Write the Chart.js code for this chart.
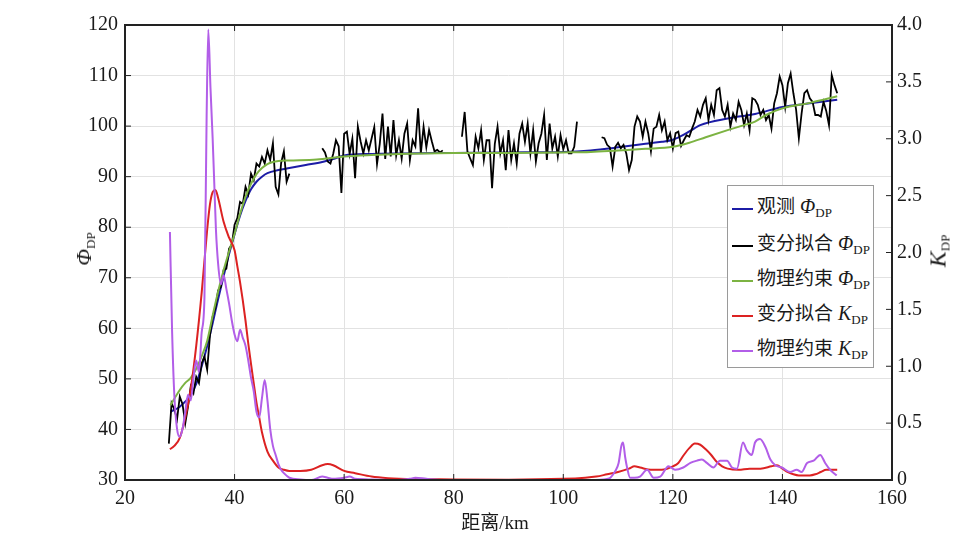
<!DOCTYPE html>
<html lang="zh-CN">
<head>
<meta charset="UTF-8">
<title>差分相位 Φ_DP 与比差分相位 K_DP</title>
<script src="https://cdn.jsdelivr.net/npm/chart.js"></script>
<style>
  body { margin: 0; background: #fff; }
  #wrap { position: relative; width: 976px; height: 534px; }
  .ttl { position: absolute; white-space: nowrap; color: #1a1a1a; font-family: "Liberation Serif", "Noto Sans CJK SC", serif; }
  .rot { transform: translate(-50%, -50%) rotate(-90deg); }
  .ttl i, #legend i { font-family: "Liberation Serif", serif; }
  .ttl sub, #legend sub { font-family: "Liberation Serif", serif; font-size: 13px; font-style: normal; vertical-align: -4px; line-height: 0; }
  #legend { position: absolute; left: 727px; top: 185px; width: 147px; height: 183px; box-sizing: border-box;
            border: 1px solid #9a9a9a; background: #fff; }
  .row { position: absolute; left: 0; height: 30px; line-height: 30px; white-space: nowrap;
         font-family: "Liberation Serif", "Noto Sans CJK SC", serif; font-size: 19px; color: #1a1a1a; }
  .sw { display: inline-block; vertical-align: middle; width: 21px; height: 2px; margin: 0 4px 0 4px; }
  .row i { font-size: 20px; margin-left: 5px; }
</style>
</head>
<body>
<div id="wrap">
  <canvas id="grafico" width="976" height="534"></canvas>

  <!-- títulos dos eixos (com subscrito) -->
  <div class="ttl rot" style="left:84px; top:249px; font-size:22px;"><i>Φ</i><sub>DP</sub></div>
  <div class="ttl rot" style="left:938px; top:251px; font-size:24px;"><i>K</i><sub>DP</sub></div>
  <div class="ttl" style="left:495px; top:520px; transform: translate(-50%, -50%); font-size:19px;">距离/km</div>

  <!-- legenda -->
  <div id="legend">
    <div class="row" style="top:5px;"><span class="sw" style="background:#1c1ca6"></span>观测<i>Φ</i><sub>DP</sub></div>
    <div class="row" style="top:42px;"><span class="sw" style="background:#000"></span>变分拟合<i>Φ</i><sub>DP</sub></div>
    <div class="row" style="top:77px;"><span class="sw" style="background:#7cb342"></span>物理约束<i>Φ</i><sub>DP</sub></div>
    <div class="row" style="top:112px;"><span class="sw" style="background:#dc2222"></span>变分拟合<i>K</i><sub>DP</sub></div>
    <div class="row" style="top:147px;"><span class="sw" style="background:#b25ee8"></span>物理约束<i>K</i><sub>DP</sub></div>
  </div>
</div>

<script>
// eixo X (distância, km) e eixos Y
const xTicks = [20, 40, 60, 80, 100, 120, 140, 160];
const phiTicks = [30, 40, 50, 60, 70, 80, 90, 100, 110, 120];
const kTicks = [0, 0.5, 1.0, 1.5, 2.0, 2.5, 3.0, 3.5, 4.0];

// 观测 Φ_DP (azul, suave)
const distBlue = [28.3, 30, 32, 33, 34, 35, 36, 37, 38, 39, 40, 41, 42, 43, 44, 45, 46, 48, 50, 53, 56, 58, 60, 65, 70,
                  80, 90, 100, 105, 110, 115, 118, 120, 122, 124, 125, 130, 135, 140, 145, 150];
const phiBlue = [43.5, 44.5, 46.8, 49.0, 52.5, 56.5, 61.0, 65.8, 70.3, 74.7, 78.6, 82.3, 85.2, 87.5, 89.0, 90.0, 90.7, 91.3, 91.7, 92.3, 92.9, 93.5, 94.2, 94.5, 94.6,
                 94.7, 94.8, 94.9, 95.2, 95.8, 96.5, 96.9, 97.3, 98.3, 99.6, 100.2, 101.5, 102.4, 103.8, 104.5, 105.2];

// 变分拟合 Φ_DP (preto, ruidoso) - 4 trechos, passo de 0,5 km
const blackStep = 0.5;
const blackStartA = 28.0;
const phiBlackA = [37.2, 45.2, 44.0, 42.0, 46.5, 45.0, 41.2, 44.5, 48.5, 47.2, 50.4, 49.2, 53.1, 54.4, 51.8, 58.5, 62.3, 64.0, 67.5, 68.2,
                   71.5, 71.8, 75.8, 76.6, 80.5, 81.8, 85.0, 84.6, 88.0, 86.5, 90.6, 89.3, 92.6, 92.0, 93.9, 92.6, 95.2, 93.3, 96.6, 88.0,
                   86.5, 92.7, 95.0, 89.0, 90.6];
const blackStartB = 56.0;
const phiBlackB = [95.6, 94.8, 93.0, 92.6, 94.5, 97.2, 96.0, 86.8, 98.5, 98.9, 94.5, 97.5, 89.7, 99.9, 97.0, 94.6, 97.2, 95.2, 97.5, 99.8,
                   92.5, 96.5, 102.5, 93.5, 99.9, 94.0, 101.2, 94.2, 97.2, 93.6, 98.5, 100.5, 93.3, 97.2, 96.0, 103.5, 94.6, 99.9, 95.8, 99.2,
                   97.0, 95.0, 95.3, 94.8, 95.2];
const blackStartC = 81.5;
const phiBlackC = [97.9, 102.8, 95.0, 93.6, 92.3, 97.9, 95.6, 99.2, 93.3, 97.2, 97.2, 87.7, 96.5, 99.9, 94.6, 97.2, 91.3, 99.2, 93.3, 96.6,
                   92.6, 98.5, 100.5, 96.9, 100.5, 94.6, 99.2, 93.0, 96.6, 98.5, 102.2, 93.3, 100.5, 95.6, 97.9, 94.0, 98.2, 95.4, 97.2, 94.6,
                   94.6, 95.9, 100.9];
const blackStartD = 107.0;
const phiBlackD = [97.8, 97.6, 96.3, 95.8, 92.0, 95.9, 96.7, 95.6, 96.3, 94.6, 91.3, 93.3, 99.9, 101.9, 100.9, 97.9, 100.9, 98.6, 95.0, 99.5,
                   99.9, 102.2, 99.2, 100.9, 97.2, 98.6, 95.6, 98.6, 98.9, 96.1, 97.2, 98.2, 97.9, 99.5, 100.9, 103.2, 101.9, 104.2, 105.5, 101.2,
                   104.2, 102.2, 107.1, 107.5, 103.2, 101.9, 104.2, 99.9, 102.5, 101.2, 104.8, 103.2, 100.2, 102.5, 99.2, 105.5, 105.2, 104.2, 102.2, 103.2,
                   101.2, 102.2, 99.5, 104.5, 106.5, 109.8, 108.1, 103.8, 108.5, 110.4, 106.5, 103.2, 97.6, 102.5, 106.5, 107.1, 105.5, 104.8, 102.2, 102.2,
                   101.9, 104.8, 103.0, 100.2, 110.1, 108.1, 106.5];

// 物理约束 Φ_DP (verde, suave)
const distGreen = [28.3, 30, 31, 32, 33, 34, 35, 36, 37, 38, 39, 40, 41, 42, 43, 44, 45, 46, 47, 48, 50, 55, 60, 65, 70,
                   80, 90, 100, 105, 110, 115, 120, 123, 126, 130, 133, 135, 137, 140, 145, 150];
const phiGreen = [44.8, 47.8, 49.2, 50.2, 52.0, 54.5, 57.5, 62.5, 67.3, 71.5, 75.2, 78.7, 82.6, 86.0, 88.6, 90.5, 91.7, 92.5, 92.9, 93.1, 93.2, 93.4, 94.0, 94.3, 94.5,
                  94.7, 94.7, 94.8, 94.9, 95.2, 95.5, 95.9, 96.7, 97.8, 99.2, 100.2, 100.9, 102.2, 103.5, 104.6, 105.9];

// 变分拟合 K_DP (vermelho, eixo direito)
const distRed = [28.2, 29, 30, 31, 32, 33, 34, 35, 35.5, 36, 36.5, 37, 38, 39, 40, 40.5, 41, 41.5, 42, 42.5, 43, 43.5, 44, 44.5, 45,
                 46, 47, 48, 49, 50, 52, 54, 56, 57, 58, 60, 62, 65, 68, 70, 80, 90, 100, 104, 106, 108, 110, 112, 113, 114,
                 116, 118, 120, 121, 122, 123, 124, 125, 126, 127, 128, 129, 130, 132, 134, 136, 138, 139, 140, 141, 142, 143, 145, 146, 147,
                 148, 150];
const kRed = [0.27, 0.30, 0.37, 0.55, 0.80, 1.18, 1.65, 2.20, 2.42, 2.53, 2.55, 2.48, 2.27, 2.13, 2.02, 1.88, 1.74, 1.58, 1.40, 1.20, 1.02, 0.85, 0.68, 0.55, 0.42,
              0.25, 0.17, 0.11, 0.09, 0.08, 0.08, 0.09, 0.13, 0.14, 0.13, 0.08, 0.06, 0.03, 0.015, 0.01, 0.005, 0.003, 0.01, 0.02, 0.03, 0.05, 0.07, 0.10, 0.12, 0.11,
              0.09, 0.09, 0.12, 0.15, 0.22, 0.28, 0.32, 0.31, 0.27, 0.22, 0.16, 0.12, 0.10, 0.09, 0.10, 0.10, 0.12, 0.13, 0.10, 0.07, 0.05, 0.04, 0.04, 0.05, 0.07,
              0.09, 0.09];

// 物理约束 K_DP (roxo, eixo direito)
const distPurple = [28.2, 28.6, 29.0, 29.5, 30.0, 30.5, 31.0, 31.5, 32.0, 32.5, 33.0, 33.5, 34.0, 34.5, 34.9, 35.2, 35.6, 36.0, 36.3, 36.6,
                    37.0, 37.5, 38.0, 38.5, 39.0, 39.5, 40.0, 40.5, 41.0, 41.5, 42.0, 42.5, 43.0, 43.5, 44.0, 44.5, 45.0, 45.5, 46.0, 46.5,
                    47.0, 47.5, 48.0, 48.5, 49.0, 50, 52, 54, 56, 57, 58, 60, 61, 62, 65, 70, 72, 73, 75, 78,
                    85, 100, 105, 108, 108.6, 109.5, 110.1, 110.6, 110.9, 111.3, 111.6, 112.2, 113, 114, 115.3, 116.5, 117.7, 119.2, 120.4, 121.9,
                    123.2, 124.4, 125.3, 126.2, 127.4, 128.6, 129.9, 130.8, 131.7, 132.8, 133.5, 134.4, 135.0, 135.9, 136.9, 137.8, 138.7, 139.9, 141.4, 142.6,
                    143.5, 144.5, 145.7, 146.9, 147.8, 148.7, 149.9];
const kPurple = [2.18, 1.3, 0.75, 0.45, 0.38, 0.45, 0.6, 0.75, 0.7, 0.9, 1.05, 0.95, 1.3, 1.6, 3.2, 3.96, 3.45, 3.0, 2.6, 2.2,
                 1.9, 1.72, 1.8, 1.68, 1.55, 1.4, 1.28, 1.22, 1.32, 1.25, 1.18, 1.05, 0.9, 0.78, 0.6, 0.55, 0.72, 0.88, 0.7, 0.45,
                 0.3, 0.22, 0.14, 0.09, 0.06, 0.02, 0.005, 0.0, 0.03, 0.02, 0.01, 0.02, 0.03, 0.01, 0.005, 0.0, 0.01, 0.02, 0.01, 0.0,
                 0.0, 0.0, 0.0, 0.01, 0.02, 0.08, 0.15, 0.30, 0.33, 0.2, 0.12, 0.02, 0.02, 0.03, 0.09, 0.02, 0.03, 0.12, 0.09, 0.11,
                 0.15, 0.17, 0.18, 0.15, 0.11, 0.17, 0.17, 0.11, 0.10, 0.33, 0.26, 0.22, 0.33, 0.36, 0.29, 0.18, 0.13, 0.11, 0.07, 0.09,
                 0.07, 0.15, 0.17, 0.22, 0.15, 0.09, 0.04];

// monta pares {x, y}
const pares = (xs, ys) => xs.map((x, i) => ({ x: x, y: ys[i] }));
const trecho = (inicio, ys) => ys.map((y, i) => ({ x: inicio + i * blackStep, y: y }));

// trechos do preto separados por lacunas (null quebra a linha)
const pontosPreto = [].concat(
  trecho(blackStartA, phiBlackA), [{ x: 53, y: null }],
  trecho(blackStartB, phiBlackB), [{ x: 80, y: null }],
  trecho(blackStartC, phiBlackC), [{ x: 105, y: null }],
  trecho(blackStartD, phiBlackD)
);

const fonte = { family: '"Liberation Serif", "Times New Roman", serif', size: 20 };
const corTexto = '#1a1a1a';

// moldura do gráfico + marcas dos ticks para dentro
const moldura = {
  id: 'moldura',
  afterDatasetsDraw(chart) {
    const { ctx, chartArea: a, scales } = chart;
    ctx.save();
    ctx.strokeStyle = '#222';
    ctx.lineWidth = 1;
    const tl = 6;
    ctx.beginPath();
    xTicks.forEach(v => {
      const px = scales.x.getPixelForValue(v);
      ctx.moveTo(px, a.bottom); ctx.lineTo(px, a.bottom - tl);
      ctx.moveTo(px, a.top); ctx.lineTo(px, a.top + tl);
    });
    phiTicks.forEach(v => {
      const py = scales.yL.getPixelForValue(v);
      ctx.moveTo(a.left, py); ctx.lineTo(a.left + tl, py);
    });
    kTicks.forEach(v => {
      const py = scales.yR.getPixelForValue(v);
      ctx.moveTo(a.right, py); ctx.lineTo(a.right - tl, py);
    });
    ctx.stroke();
    ctx.lineWidth = 2;
    ctx.strokeRect(a.left, a.top, a.right - a.left, a.bottom - a.top);
    ctx.restore();
  }
};

const ctx = document.getElementById('grafico');

const grafico = new Chart(ctx, {
  type: 'line',
  data: {
    datasets: [
      { label: '观测 Φ_DP', data: pares(distBlue, phiBlue), yAxisID: 'yL', borderColor: '#1c1ca6', borderWidth: 2, cubicInterpolationMode: 'monotone', order: 5 },
      { label: '变分拟合 Φ_DP', data: pontosPreto, yAxisID: 'yL', borderColor: '#000', borderWidth: 1.8, tension: 0, spanGaps: false, order: 4 },
      { label: '物理约束 Φ_DP', data: pares(distGreen, phiGreen), yAxisID: 'yL', borderColor: '#7cb342', borderWidth: 2, cubicInterpolationMode: 'monotone', order: 3 },
      { label: '变分拟合 K_DP', data: pares(distRed, kRed), yAxisID: 'yR', borderColor: '#dc2222', borderWidth: 2, cubicInterpolationMode: 'monotone', order: 2 },
      { label: '物理约束 K_DP', data: pares(distPurple, kPurple), yAxisID: 'yR', borderColor: '#b25ee8', borderWidth: 2, cubicInterpolationMode: 'monotone', order: 1 }
    ]
  },
  options: {
    responsive: false,
    animation: false,
    layout: { padding: { top: 25 } },
    elements: { point: { radius: 0 } },
    plugins: { legend: { display: false }, tooltip: { enabled: false } },
    scales: {
      x: {
        type: 'linear', min: 20, max: 160,
        afterBuildTicks: s => { s.ticks = xTicks.map(v => ({ value: v })); },
        ticks: { font: fonte, color: corTexto, padding: 7, maxRotation: 0 },
        grid: { color: '#e2e2e2', drawTicks: false },
        border: { display: false },
        afterFit: s => { s.height = 54; }
      },
      yL: {
        position: 'left', min: 30, max: 120,
        afterBuildTicks: s => { s.ticks = phiTicks.map(v => ({ value: v })); },
        ticks: { font: fonte, color: corTexto, padding: 7 },
        grid: { color: '#e2e2e2', drawTicks: false },
        border: { display: false },
        afterFit: s => { s.width = 125; }
      },
      yR: {
        position: 'right', min: 0, max: 4,
        afterBuildTicks: s => { s.ticks = kTicks.map(v => ({ value: v })); },
        ticks: { font: fonte, color: corTexto, padding: 5, callback: v => (v === 0 ? '0' : v.toFixed(1)) },
        grid: { display: false, drawTicks: false },
        border: { display: false },
        afterFit: s => { s.width = 84; }
      }
    }
  },
  plugins: [moldura]
});
</script>
</body>
</html>
